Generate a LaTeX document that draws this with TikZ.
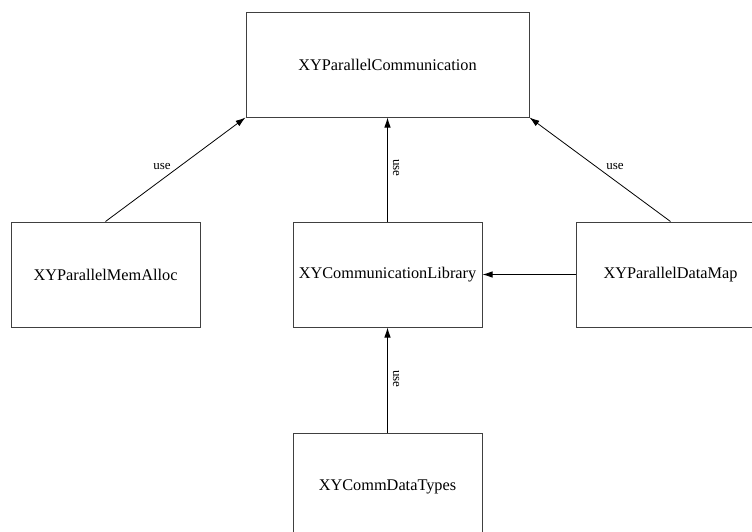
\documentclass[tikz,border=0pt]{standalone}
\usepackage{fontspec}
\setmainfont{Liberation Serif}
\usetikzlibrary{arrows.meta}
\begin{document}
\begin{tikzpicture}[x=1pt,y=1pt,
  box/.style={draw=black!75, line width=1pt, rectangle, minimum width=189pt, minimum height=105pt, inner sep=0pt, font=\fontsize{16.3}{19}\selectfont},
  arr/.style={draw=black, line width=0.8pt, -{Latex[length=10pt,width=6.5pt]}},
  lbl/.style={font=\fontsize{13}{15}\selectfont, inner sep=0pt}]
\useasboundingbox (0,0) rectangle (752,-531);
\clip (0,0) rectangle (752,-531);
\node[box, minimum width=283pt] (top) at (387.5,-64.5) {XYParallelCommunication};
\node[box] (mem) at (105.5,-274.5) {XYParallelMemAlloc};
\node[box] (lib) at (387.5,-274.5) {XYCommunicationLibrary};
\node[box] (map) at (670.5,-274.5) {XYParallelDataMap};
\node[box, minimum height=108pt] (types) at (387.5,-487) {XYCommDataTypes};
\draw[arr] (mem.north) -- (top.south west);
\draw[arr] (lib.north) -- (top.south);
\draw[arr] (map.north) -- (top.south east);
\draw[arr] (map.west) -- (lib.east);
\draw[arr] (types.north) -- (lib.south);
\node[lbl] (u1) at (162,-166) {use};
\node[lbl] (u3) at (615,-166) {use};
\node[lbl, rotate=-90] (u2) at (396,-168) {use};
\node[lbl, rotate=-90] (u4) at (396,-379) {use};
\end{tikzpicture}
\end{document}
